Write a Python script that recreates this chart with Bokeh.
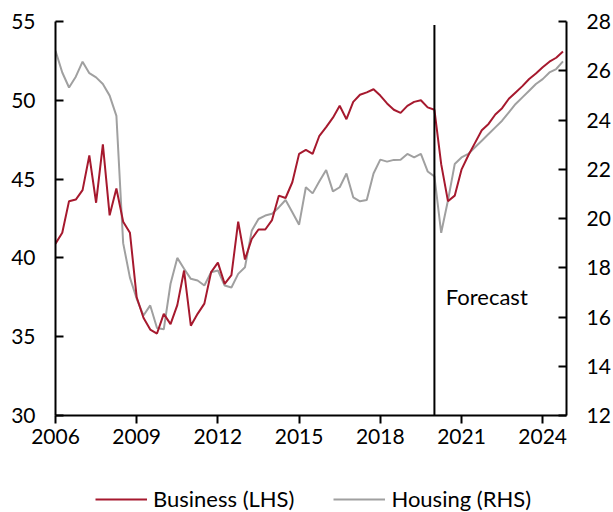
from bokeh.plotting import figure
from bokeh.layouts import column
from bokeh.models import Range1d, LinearAxis, Legend, LegendItem, FixedTicker, ColumnDataSource, Label
from bokeh.embed import file_html
from bokeh.resources import INLINE

years = list(range(2006, 2025))
quarters = [y + (q - 1) / 4 for y in years for q in range(1, 5)]

business = [
    40.9, 41.6, 43.6, 43.7,   # 2006
    44.3, 46.5, 43.5, 47.2,   # 2007
    42.7, 44.4, 42.3, 41.6,   # 2008
    37.5, 36.2, 35.45, 35.2,  # 2009
    36.45, 35.8, 37.0, 39.2,  # 2010
    35.7, 36.45, 37.1, 39.1,  # 2011
    39.7, 38.35, 38.9, 42.3,  # 2012
    39.9, 41.2, 41.8, 41.8,   # 2013
    42.4, 43.95, 43.8, 44.8,  # 2014
    46.6, 46.85, 46.6, 47.75, # 2015
    48.3, 48.9, 49.65, 48.8,  # 2016
    49.9, 50.35, 50.5, 50.7,  # 2017
    50.3, 49.8, 49.4, 49.2,   # 2018
    49.65, 49.9, 50.0, 49.55, # 2019
    49.4, 45.95, 43.6, 43.95, # 2020
    45.6, 46.5, 47.3, 48.1,   # 2021
    48.5, 49.1, 49.5, 50.1,   # 2022
    50.5, 50.9, 51.35, 51.7,  # 2023
    52.1, 52.45, 52.7, 53.1,  # 2024
]

housing = [
    26.81, 25.93, 25.32, 25.76,  # 2006
    26.37, 25.9, 25.73, 25.46,   # 2007
    24.99, 24.17, 19.0, 17.6,    # 2008
    16.74, 16.06, 16.47, 15.55,  # 2009
    15.5, 17.35, 18.4, 17.96,    # 2010
    17.55, 17.48, 17.28, 17.82,  # 2011
    17.89, 17.28, 17.2, 17.75,   # 2012
    18.02, 19.5, 19.98, 20.12,   # 2013
    20.19, 20.45, 20.75, 20.25,  # 2014
    19.75, 21.27, 21.02, 21.51,  # 2015
    21.97, 21.1, 21.27, 21.83,   # 2016
    20.86, 20.7, 20.75, 21.83,   # 2017
    22.39, 22.31, 22.38, 22.39,  # 2018
    22.62, 22.48, 22.62, 21.91,  # 2019
    21.71, 19.42, 20.73, 22.21,  # 2020
    22.48, 22.62, 22.89, 23.16,  # 2021
    23.43, 23.7, 23.97, 24.31,   # 2022
    24.65, 24.92, 25.19, 25.46,  # 2023
    25.66, 25.93, 26.07, 26.38,  # 2024
]

series_names = ["Business (LHS)", "Housing (RHS)"]
x_ticks = [2006, 2009, 2012, 2015, 2018, 2021, 2024]
lhs_ticks = [30, 35, 40, 45, 50, 55]
rhs_ticks = [12, 14, 16, 18, 20, 22, 24, 26, 28]
forecast_start = 2020.0

FONT = "Lato"
RED = "#A6192E"
GREY = "#A0A0A0"

p = figure(frame_width=511, frame_height=394,
           x_range=Range1d(2006, 2024.88), y_range=Range1d(30, 55),
           output_backend="svg", toolbar_location=None,
           min_border_left=55, min_border_top=21, min_border_right=40,
           min_border_bottom=41)
p.extra_y_ranges = {"rhs": Range1d(12, 28)}
p.outline_line_color = None
p.xgrid.visible = False
p.ygrid.visible = False
p.background_fill_color = "white"
p.border_fill_color = "white"

def style_axis(ax):
    ax.axis_line_color = "black"
    ax.axis_line_width = 2
    ax.major_tick_line_color = "black"
    ax.major_tick_line_width = 2
    ax.minor_tick_line_color = None
    ax.major_label_text_font = FONT
    ax.major_label_text_font_size = "21px"
    ax.major_label_text_color = "black"

xa = p.xaxis[0]
style_axis(xa)
xa.ticker = FixedTicker(ticks=x_ticks)
xa.major_tick_in = 0
xa.major_tick_out = 8
xa.major_label_standoff = 5

ya = p.yaxis[0]
style_axis(ya)
ya.ticker = FixedTicker(ticks=lhs_ticks)
ya.major_tick_in = 8
ya.major_tick_out = 0
ya.major_label_standoff = 20

ra = LinearAxis(y_range_name="rhs")
style_axis(ra)
ra.ticker = FixedTicker(ticks=rhs_ticks)
ra.major_tick_in = 8
ra.major_tick_out = 0
ra.major_label_standoff = 20
p.add_layout(ra, "right")

src = ColumnDataSource(dict(x=quarters, b=business, h=housing))
r_h = p.line("x", "h", source=src, y_range_name="rhs", color=GREY, line_width=2)
r_b = p.line("x", "b", source=src, color=RED, line_width=2)

p.segment(x0=[forecast_start], y0=[30], x1=[forecast_start], y1=[54.78],
          line_color="black", line_width=2)
p.add_layout(Label(x=2020.42, y=37.55, text="Forecast", text_font=FONT,
                   text_font_size="22px", text_baseline="middle",
                   text_color="black"))

# Legend strip below the chart: same series drawn out of view, key only
lg = figure(width=611, height=56, output_backend="svg", toolbar_location=None,
            min_border=0, x_range=Range1d(0, 1), y_range=Range1d(0, 1))
lg.outline_line_color = None
lg.axis.visible = False
lg.xgrid.visible = False
lg.ygrid.visible = False
lg.border_fill_color = "white"
k_b = lg.line("x", "b", source=src, color=RED, line_width=2)
k_h = lg.line("x", "h", source=src, color=GREY, line_width=2)

legend = Legend(items=[LegendItem(label=series_names[0], renderers=[k_b]),
                       LegendItem(label=series_names[1], renderers=[k_h])],
                orientation="horizontal", location=(40, 0))
legend.border_line_color = None
legend.background_fill_alpha = 0
legend.label_text_font = FONT
legend.label_text_font_size = "22px"
legend.label_text_color = "black"
legend.glyph_width = 52
legend.glyph_height = 20
legend.label_standoff = 6
legend.spacing = 39
legend.padding = 0
legend.margin = 0
lg.add_layout(legend, "center")

layout = column(p, lg, spacing=0)
open("out.html", "w").write(file_html(layout, INLINE))
